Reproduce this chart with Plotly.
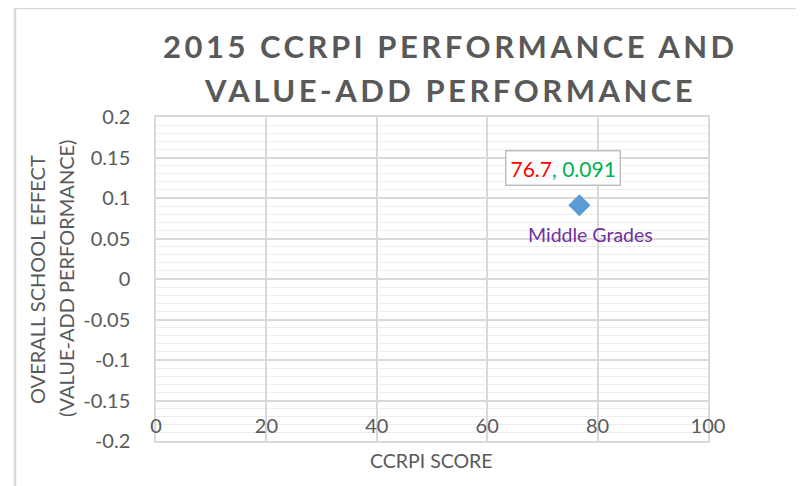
import plotly.graph_objects as go

# data
ccrpi_score = [76.7]
school_effect = [0.091]
school_names = ["Middle Grades"]

x_ticks = [0, 20, 40, 60, 80, 100]
y_ticks = [0.2, 0.15, 0.1, 0.05, 0, -0.05, -0.1, -0.15, -0.2]

title_lines = ["2015 CCRPI PERFORMANCE AND", "VALUE-ADD PERFORMANCE"]
y_title_lines = ["OVERALL SCHOOL EFFECT", "(VALUE-ADD PERFORMANCE)"]
x_title = "CCRPI SCORE"

grey_text = "#595959"
font_family = "Lato, 'Open Sans', sans-serif"

# page has an 8px body margin, so the figure is shifted by 8px
PW, PH = 552, 324  # plot area size in px


def px_x(page_x):
    return (page_x - 156) / PW


def px_y(page_y):
    return (441 - page_y) / PH


fig = go.Figure()

fig.add_trace(go.Scatter(
    x=ccrpi_score,
    y=school_effect,
    mode="markers",
    marker=dict(symbol="diamond", size=17, color="#5B9BD5", line=dict(width=0)),
    hoverinfo="skip",
    showlegend=False,
))

# data label (x red, y green) in a box above the point
for x, y, name in zip(ccrpi_score, school_effect, school_names):
    fig.add_annotation(
        x=x, y=y, xref="x", yref="y",
        text=f"<span style='color:#FF0000'>{x}</span><span style='color:#00B050'>, {y:.3f}</span>",
        showarrow=False,
        font=dict(family=font_family, size=21),
        bgcolor="white", bordercolor="#BFBFBF", borderwidth=1.5, borderpad=4,
        xshift=-16, yshift=37,
    )
    fig.add_annotation(
        x=x, y=y, xref="x", yref="y",
        text=name,
        showarrow=False,
        font=dict(family=font_family, size=19.5, color="#7030A0"),
        xshift=11, yshift=-29,
    )

# title, two lines
for txt, py in zip(title_lines, [46, 90]):
    fig.add_annotation(
        x=px_x(450), y=px_y(py), xref="paper", yref="paper",
        text=f"<span style='letter-spacing:3.5px'>{txt}</span>",
        showarrow=False, xanchor="center", yanchor="middle",
        font=dict(family=font_family, size=31, color=grey_text, weight="bold"),
    )

# axis titles
for txt, px in zip(y_title_lines, [37, 66]):
    fig.add_annotation(
        x=px_x(px), y=0.5, xref="paper", yref="paper",
        text=txt, textangle=-90,
        showarrow=False, xanchor="center", yanchor="middle",
        font=dict(family=font_family, size=20, color=grey_text),
    )
fig.add_annotation(
    x=px_x(431), y=px_y(460), xref="paper", yref="paper",
    text=x_title, showarrow=False, xanchor="center", yanchor="middle",
    font=dict(family=font_family, size=19.5, color=grey_text),
)

# outer chart border (top and left only are visible)
fig.add_shape(type="line", xref="paper", yref="paper",
              x0=px_x(15), x1=1.2, y0=px_y(8), y1=px_y(8),
              line=dict(color="#D9D9D9", width=2.5))
fig.add_shape(type="line", xref="paper", yref="paper",
              x0=px_x(15), x1=px_x(15), y0=px_y(8), y1=-0.2,
              line=dict(color="#D9D9D9", width=2.5))

fig.update_layout(
    width=796, height=478,
    margin=dict(l=148, r=96, t=109, b=45),
    paper_bgcolor="white",
    plot_bgcolor="white",
    font=dict(family=font_family, color=grey_text),
    xaxis=dict(
        range=[0, 100],
        tickvals=x_ticks,
        ticktext=[str(v) for v in x_ticks],
        tickfont=dict(size=20, color=grey_text),
        ticks="",
        ticklabelstandoff=-34,
        showgrid=True, gridcolor="#D9D9D9", gridwidth=1.5,
        showline=True, linecolor="#D9D9D9", linewidth=1.5, mirror=True,
        zeroline=False,
    ),
    yaxis=dict(
        range=[-0.2, 0.2],
        tickvals=y_ticks,
        ticktext=[f"{v:g}" for v in y_ticks],
        tickfont=dict(size=20, color=grey_text),
        ticks="",
        ticklabelstandoff=20,
        showgrid=True, gridcolor="#D9D9D9", gridwidth=1.5,
        minor=dict(dtick=0.01, showgrid=True, gridcolor="#EDEDED", gridwidth=1),
        showline=True, linecolor="#D9D9D9", linewidth=1.5, mirror=True,
        zeroline=False,
    ),
)

fig.write_html("out.html")
